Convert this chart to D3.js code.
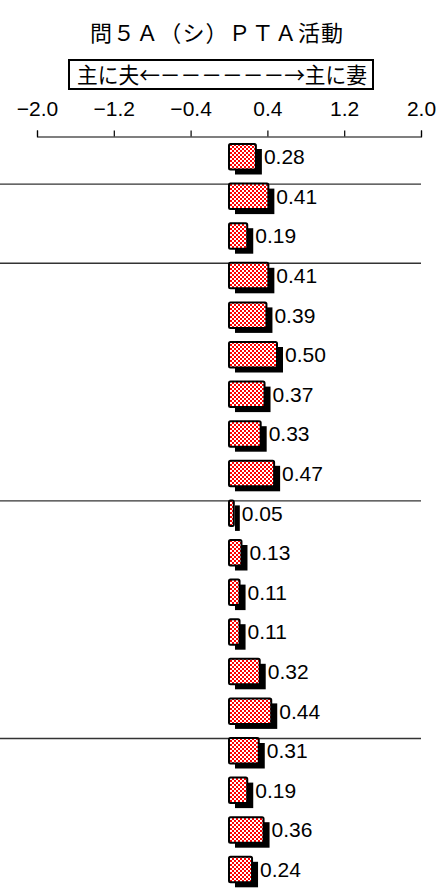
<!DOCTYPE html>
<html>
<head>
<meta charset="utf-8">
<script src="https://cdn.jsdelivr.net/npm/d3@7"></script>
<style>
  body { margin: 0; background: #fff; }
  svg { display: block; }
  text { font-family: "Liberation Sans", Arial, sans-serif; fill: #000; }
  .jp { font-family: "Noto Sans CJK JP", sans-serif; }
</style>
</head>
<body>
<script>
// values (one per row, top to bottom)
var values = [0.28, 0.41, 0.19, 0.41, 0.39, 0.50, 0.37, 0.33, 0.47,
              0.05, 0.13, 0.11, 0.11, 0.32, 0.44, 0.31, 0.19, 0.36, 0.24];
// rows where a new group starts (a line is drawn above them)
var groupStarts = [1, 3, 9, 15];
var tickValues = [-2.0, -1.2, -0.4, 0.4, 1.2, 2.0];
var title = "問５Ａ（シ）ＰＴＡ活動";
var legendText = "主に夫←－－－－－－→主に妻";

var width = 436,
    height = 888;

var svg = d3.select("body").append("svg")
    .attr("width", width)
    .attr("height", height);

// checkered fill for bars
var defs = svg.append("defs");
var pat = defs.append("pattern")
    .attr("id", "check")
    .attr("patternUnits", "userSpaceOnUse")
    .attr("width", 4)
    .attr("height", 4);
pat.append("rect").attr("width", 4).attr("height", 4).attr("fill", "#ff0000");
pat.append("rect").attr("x", 0).attr("y", 0).attr("width", 2).attr("height", 2).attr("fill", "#fff");
pat.append("rect").attr("x", 2).attr("y", 2).attr("width", 2).attr("height", 2).attr("fill", "#fff");

var x = d3.scaleLinear()
    .domain([-2, 2])
    .range([37, 421]);

var y = d3.scaleBand()
    .domain(d3.range(values.length))
    .range([144, 144 + values.length * 39.6]);

var barH = 25.5;

// title
svg.append("text")
    .attr("class", "jp")
    .attr("x", 90)
    .attr("y", 41)
    .attr("textLength", 253)
    .attr("lengthAdjust", "spacing")
    .style("font-size", "22px")
    .text(title);

// direction box
svg.append("rect")
    .attr("x", 69)
    .attr("y", 60)
    .attr("width", 304)
    .attr("height", 29)
    .attr("fill", "none")
    .attr("stroke", "#000")
    .attr("stroke-width", 2);

svg.append("text")
    .attr("class", "jp")
    .attr("x", 77)
    .attr("y", 83)
    .attr("textLength", 290)
    .attr("lengthAdjust", "spacingAndGlyphs")
    .style("font-size", "22px")
    .text(legendText);

// axis on top
var axis = d3.axisTop(x)
    .tickValues(tickValues)
    .tickSize(6)
    .tickSizeOuter(6)
    .tickPadding(15)
    .tickFormat(d3.format(".1f"));

var gAxis = svg.append("g")
    .attr("transform", "translate(0,136.5)")
    .call(axis);

gAxis.select(".domain").attr("stroke", "#000").attr("stroke-width", 1.2);
gAxis.selectAll(".tick line").attr("stroke", "#000").attr("stroke-width", 1.2);
gAxis.selectAll(".tick text")
    .attr("font-family", null)
    .style("font-size", "21px")
    .attr("fill", "#000");

// group separators
svg.append("g")
    .selectAll("line")
    .data(groupStarts)
    .enter().append("line")
    .attr("x1", 0)
    .attr("x2", 421)
    .attr("y1", function(d) { return y(d) + 0.5; })
    .attr("y2", function(d) { return y(d) + 0.5; })
    .attr("stroke", "#333")
    .attr("stroke-width", 1.4);

var bars = svg.append("g")
    .selectAll("g")
    .data(values)
    .enter().append("g");

// shadow
bars.append("rect")
    .attr("x", function(d) { return x(0) + 6; })
    .attr("y", function(d, i) { return y(i) + 5; })
    .attr("width", function(d) { return x(d) - x(0); })
    .attr("height", barH)
    .attr("fill", "#000");

// bar
bars.append("rect")
    .attr("x", x(0))
    .attr("y", function(d, i) { return y(i); })
    .attr("width", function(d) { return x(d) - x(0); })
    .attr("height", barH)
    .attr("rx", 1.5)
    .attr("fill", "url(#check)")
    .attr("stroke", "#000")
    .attr("stroke-width", 2);

// value labels
bars.append("text")
    .attr("x", function(d) { return x(d) + 8; })
    .attr("y", function(d, i) { return y(i) + barH / 2 + 7.5; })
    .style("font-size", "21px")
    .text(function(d) { return d3.format(".2f")(d); });
</script>
</body>
</html>
